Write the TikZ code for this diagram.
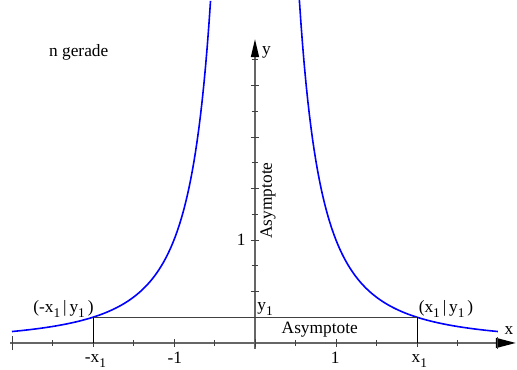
\documentclass[tikz,border=0pt]{standalone}
\usepackage{fontspec}
\setmainfont{Liberation Serif}
\usepackage{tikz}
\usetikzlibrary{arrows.meta}

\newcommand{\lowsub}[1]{\raisebox{-0.28em}{\fontsize{10}{10}\selectfont #1}}

\begin{document}
\begin{tikzpicture}[
x=60.75pt, y=77.25pt,
axis/.style={draw=black!60, line width=1.1pt},
tickmark/.style={draw=black!75, line width=0.7pt},
graph/.style={draw=blue, line width=1.2pt},
lbl/.style={font=\fontsize{13}{15}\selectfont, inner sep=1pt}
]
\useasboundingbox (-3.148,-0.262) rectangle (3.235,3.330);

% axes
\coordinate (xstart) at (-3.02,0);
\coordinate (xend) at (3.22,0);
\coordinate (ystart) at (0,-0.06);
\coordinate (yend) at (0,2.95);
\draw[axis, -{Triangle[length=15pt,width=7.5pt,color=black]}] (xstart) -- (xend);
\draw[axis, -{Triangle[length=13.5pt,width=6pt,color=black]}] (ystart) -- (yend);

% ticks
\foreach \t in {-3,-2,...,3}
  \draw[tickmark] (\t,-0.04) -- (\t,0.04);
\foreach \t in {-2.5,-1.5,...,2.5}
  \draw[tickmark] (\t,-0.025) -- (\t,0.025);
\draw[tickmark] (-3,-0.07) -- (-3,0.07);
\draw[tickmark] (3,-0.06) -- (3,0.06);
\foreach \t in {0.5,1,...,2.5}
  \draw[tickmark] (-0.055,\t) -- (0.055,\t);
\foreach \t in {0.25,0.75,...,2.75}
  \draw[tickmark] (-0.04,\t) -- (0.04,\t);

% graph of y = x^(-2)
\draw[graph] plot[domain=-3:-0.548, samples=120] (\x,{1/(\x*\x)});
\draw[graph] plot[domain=0.548:3, samples=120] (\x,{1/(\x*\x)});

% points on the graph
\coordinate (pl) at (-2,0.25);
\coordinate (pr) at (2,0.25);
\coordinate (fl) at (-2,0);
\coordinate (fr) at (2,0);
\draw[black!75, line width=0.8pt] (pl) -- (pr);
\draw[line width=0.6pt] (pl) -- (fl);
\draw[line width=0.6pt] (pr) -- (fr);

% labels
\node[lbl] (title) at (-2.176,2.82) {n gerade};
\node[lbl] (xlab) at (3.136,0.121) {x};
\node[lbl] (ylab) at (0.142,2.82) {y};
\node[lbl, anchor=base] (mx1) at (-1.97,-0.19) {-x\lowsub{1}};
\node[lbl, anchor=base] (m1) at (-0.99,-0.2) {-1};
\node[lbl, anchor=base] (p1) at (0.99,-0.2) {1};
\node[lbl, anchor=base] (px1) at (2.03,-0.19) {x\lowsub{1}};
\node[lbl] (y1lab) at (-0.17,1) {1};
\node[lbl, anchor=south west] (yone) at (0.01,0.25) {y\lowsub{1}};
\node[lbl] (ptl) at (-2.364,0.33) {(-x\lowsub{1}\,|\,y\lowsub{1}\,)};
\node[lbl] (ptr) at (2.358,0.33) {(x\lowsub{1}\,|\,y\lowsub{1}\,)};
\node[lbl] (asyh) at (0.80,0.125) {Asymptote};
\node[lbl, rotate=90] (asyv) at (0.16,1.383) {Asymptote};
\end{tikzpicture}
\end{document}
